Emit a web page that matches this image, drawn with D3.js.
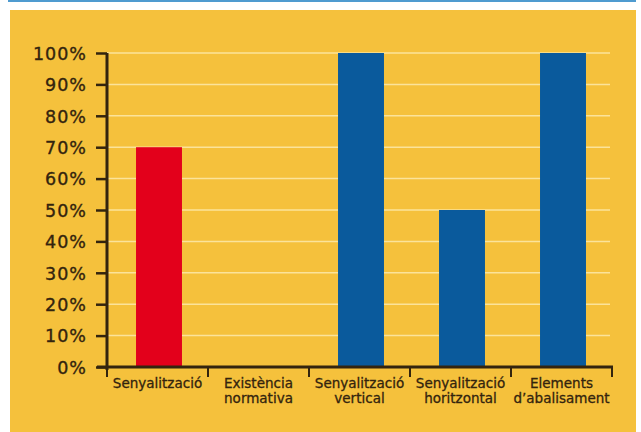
<!DOCTYPE html>
<html><head><meta charset="utf-8">
<script src="https://cdn.jsdelivr.net/npm/d3@7"></script>
<style>html,body{margin:0;padding:0;background:#fff;}svg{display:block;}</style>
</head><body>
<script>
const categories = ["Senyalització", "Existència normativa", "Senyalització vertical", "Senyalització horitzontal", "Elements d’abalisament"];
const categoryLines = [["Senyalització"], ["Existència", "normativa"], ["Senyalització", "vertical"], ["Senyalització", "horitzontal"], ["Elements", "d’abalisament"]];
const values = [70, 0, 100, 50, 100];
const barColors = ["#e3001b", "#0a5a9c", "#0a5a9c", "#0a5a9c", "#0a5a9c"];
const yTicks = [0, 10, 20, 30, 40, 50, 60, 70, 80, 90, 100];

const W = 641, H = 432;
const svg = d3.select("body").append("svg").attr("width", W).attr("height", H);

// top rule and panel
svg.append("rect").attr("x", 8).attr("y", 0).attr("width", 628).attr("height", 2).attr("fill", "#4f9bd0");
svg.append("rect").attr("x", 10).attr("y", 10).attr("width", 626).attr("height", 422).attr("fill", "#f5c13c");

const pLeft = 107, pRight = 612, pTop = 53, pBottom = 367;
const x = d3.scaleBand().domain(categories).range([pLeft, pRight]).paddingInner(0.545).paddingOuter(0.2725);
const xBar = x.copy().range([pLeft + 1.5, pRight + 1.5]);
const y = d3.scaleLinear().domain([0, 100]).range([pBottom, pTop]);
const ink = "#33240e";

// gridlines
svg.append("g").selectAll("line").data(yTicks.filter(d => d > 0)).join("line")
  .attr("x1", pLeft).attr("x2", 610)
  .attr("y1", d => y(d)).attr("y2", d => y(d))
  .attr("stroke", "#fbe39a").attr("stroke-width", 1.5);

// bars
svg.append("g").selectAll("rect").data(values).join("rect")
  .attr("x", (d, i) => xBar(categories[i]))
  .attr("width", xBar.bandwidth())
  .attr("y", d => y(d))
  .attr("height", d => pBottom - y(d))
  .attr("fill", (d, i) => barColors[i]);

// y axis
const yAxis = svg.append("g").attr("transform", `translate(${pLeft},0)`)
  .call(d3.axisLeft(y).tickValues(yTicks).tickFormat(d => d + "%").tickSize(11).tickPadding(9));
yAxis.select(".domain").attr("d", `M0,${pTop}V${pBottom + 3}`).attr("stroke", ink).attr("stroke-width", 3);
yAxis.selectAll(".tick line").attr("stroke", ink).attr("stroke-width", 2.5);
yAxis.selectAll(".tick text").attr("fill", ink).attr("stroke", ink).attr("stroke-width", 0.35)
  .attr("font-family", "DejaVu Sans").attr("font-size", 17.5).attr("letter-spacing", 1).attr("dy", "0.36em");

// x axis line
svg.append("line").attr("x1", 97).attr("x2", pRight + 1).attr("y1", pBottom).attr("y2", pBottom)
  .attr("stroke", ink).attr("stroke-width", 3);
// boundary ticks
const step = x.step();
const bounds = categories.map(c => x(c) - x.paddingInner() * step / 2).concat([pRight]);
bounds[0] = pLeft;
svg.append("g").selectAll("line").data(bounds).join("line")
  .attr("x1", d => d).attr("x2", d => d)
  .attr("y1", pBottom).attr("y2", pBottom + 10)
  .attr("stroke", ink).attr("stroke-width", 2);

// category labels
const lab = svg.append("g").selectAll("text").data(categoryLines).join("text")
  .attr("x", (d, i) => x(categories[i]) + x.bandwidth() / 2)
  .attr("y", 388)
  .attr("text-anchor", "middle")
  .attr("fill", ink).attr("stroke", ink).attr("stroke-width", 0.3)
  .attr("font-family", "DejaVu Sans").attr("font-size", 13.5);
lab.selectAll("tspan").data(d => d).join("tspan")
  .attr("x", function () { return this.parentNode.getAttribute("x"); })
  .attr("dy", (d, i) => i === 0 ? 0 : 15)
  .text(d => d);
</script>
</body></html>
